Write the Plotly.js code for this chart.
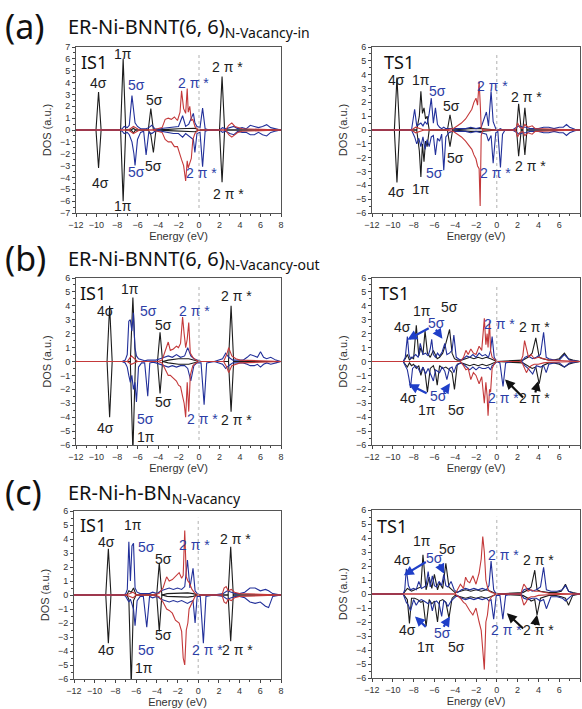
<!DOCTYPE html>
<html>
<head>
<meta charset="utf-8">
<script src="https://cdn.plot.ly/plotly-3.0.1.min.js"></script>
<style>html,body{margin:0;padding:0;background:#fff;}#chart{width:582px;height:709px;}</style>
</head>
<body>
<div id="chart"></div>
<script>
// ---------------- DATA ----------------
// (a) IS1
const aIS1_kX  = [-12,-10.05,-9.8,-9.55,-7.65,-7.4,-7.15,-6.6,-6.4,-6.2,-4.95,-4.7,-4.45,-4.2,-3,-2,-1,-0.4,0,2.0,2.25,2.5,8];
const aIS1_kUp = [0,0,3.2,0,0,6.0,0,0,0.15,0,0,1.8,0,0,0.05,0.1,0.1,0.15,0,0,4.5,0,0];
const aIS1_kDn = [0,0,-3.2,0,0,-6.0,0,0,-0.25,0,0,-0.4,-1.9,0,-0.05,-0.1,-0.1,-0.15,0,0,-4.4,0,0];
const aIS1_bX  = [-12,-7.8,-7.5,-7.3,-7.0,-6.8,-6.54,-6.35,-6.24,-6.0,-5.7,-5.4,-5.16,-4.9,-4.6,-4.3,-4.0,-3.5,-3.0,-2.5,-2.0,-1.6,-1.3,-1.0,-0.55,-0.4,-0.2,0.1,0.35,0.6,1.0,2.0,2.3,2.6,3.0,3.4,3.8,4.2,4.6,5.0,5.4,5.8,6.2,6.6,7.0,7.4,8];
const aIS1_bUp = [0,0,0.1,0.3,0.2,0.4,2.9,1.5,0.6,0.3,0.1,0.1,0.1,0.2,0.4,0.1,0.05,0.15,0.2,0.3,0.3,1.2,0.3,0.5,1.4,0.6,0.3,0.2,1.85,0.1,0,0,0.2,0.1,0.2,0.3,0.1,0.2,0.1,0.4,0.3,0.2,0.3,0.45,0.2,0.1,0];
const aIS1_bDn = [0,0,-0.1,-0.3,-0.2,-0.4,-1.0,-2.0,-3.0,-0.8,-0.2,-0.1,-2.1,-0.2,-0.3,-0.1,-0.05,-0.15,-0.2,-0.3,-0.3,-0.6,-0.3,-0.5,-0.8,-1.9,-0.3,-0.2,-3.1,-0.1,0,0,-0.2,-0.1,-0.3,-0.4,-0.1,-0.2,-0.2,-0.4,-0.4,-0.2,-0.4,-0.5,-0.2,-0.1,0];
const aIS1_rX  = [-12,-7.0,-6.7,-6.4,-6.1,-5.8,-4.5,-3.6,-3.3,-3.0,-2.7,-2.4,-2.1,-1.85,-1.7,-1.5,-1.3,-1.15,-1.05,-0.9,-0.75,-0.6,-0.4,-0.2,0,2.6,2.9,3.2,3.5,3.8,4.2,8];
const aIS1_rUp = [0,0,0.1,0.3,0.15,0,0,0.2,0.9,1.0,0.9,1.1,0.8,1.5,3.3,1.8,1.4,3.5,1.5,2.0,0.8,0.9,0.3,0.1,0,0,0.4,0.6,0.3,0.2,0.1,0];
const aIS1_rDn = [0,0,-0.1,-0.3,-0.15,0,0,-0.2,-0.8,-1.0,-1.0,-1.4,-1.4,-2.2,-2.5,-3.0,-4.3,-2.6,-3.2,-2.8,-2.4,-0.8,-0.3,-0.1,0,0,-0.4,-0.6,-0.4,-0.2,-0.1,0];

// (a) TS1
const aTS1_kX  = [-12,-9.85,-9.6,-9.35,-7.7,-7.45,-7.3,-7.15,-7.0,-6.85,-6.7,-6.5,-4.75,-4.5,-4.25,-3.5,-2.5,-1.5,-1,0,1.9,2.1,2.35,2.5,2.7,2.9,8];
const aTS1_kUp = [0,0,3.8,0,0,1.0,2.8,1.2,1.6,0.8,1.0,0,0,1.1,0,0.05,0.1,0.1,0.05,0,0,1.9,0,0,1.6,0,0];
const aTS1_kDn = [0,0,-3.8,0,0,-1.5,-3.4,-1.0,-2.3,-0.8,-1.2,0,0,-1.2,0,-0.05,-0.1,-0.1,-0.05,0,0,-1.9,0,0,-1.8,0,0];
const aTS1_bX  = [-12,-8.2,-7.9,-7.7,-7.5,-7.3,-7.1,-6.9,-6.7,-6.5,-6.3,-6.1,-5.9,-5.7,-5.5,-5.3,-5.1,-4.9,-4.6,-4.3,-4.0,-3.5,-3.0,-2.5,-2.0,-1.5,-1.0,-0.8,-0.55,-0.35,-0.1,0.1,0.35,0.55,0.8,1.5,1.9,2.2,2.5,2.8,3.2,4,4.5,5,5.5,6,6.4,6.7,7.0,7.5,8];
const aTS1_bUp = [0,0,1.5,0.3,0.4,0.5,0.3,0.6,0.4,1.2,2.3,0.5,1.6,0.4,0.2,0.1,0.2,0.1,0.1,0.1,0.1,0.1,0.1,0.2,0.1,0.2,1.3,0.3,2.8,0.6,0.1,0,0.1,0,0,0,0.2,0.3,0.2,0.2,0.1,0.1,0.2,0.2,0.1,0.2,0.2,0.4,0.2,0.05,0];
const aTS1_bDn = [0,0,-0.5,-1.0,-0.6,-1.2,-0.5,-1.4,-0.7,-1.2,-0.5,-0.4,-1.8,-0.6,-0.8,-0.3,-2.9,-0.5,-0.2,-0.1,-0.1,-0.1,-0.1,-0.2,-0.1,-0.2,-0.3,-0.8,-0.4,-2.4,-0.2,-0.1,-2.7,-0.3,0,0,-0.2,-0.3,-0.2,-0.2,-0.1,-0.1,-0.2,-0.2,-0.1,-0.2,-0.2,-0.4,-0.2,-0.05,0];
const aTS1_rX  = [-12,-8.2,-7.8,-7.4,-7.0,-6.0,-5.0,-4.2,-3.8,-3.4,-3.0,-2.7,-2.4,-2.2,-2.0,-1.85,-1.7,-1.6,-1.5,-1.35,-1.2,-1.0,1.8,2.0,2.2,2.5,2.7,3.0,3.4,3.7,8];
const aTS1_rUp = [0,0,0.2,0.1,0,0,0,0.1,0.3,0.5,0.8,1.2,1.5,2.0,2.3,1.8,3.5,2.0,0.2,0,0,0,0,0.5,0.2,0.1,0.4,0.2,0.3,0.1,0];
const aTS1_rDn = [0,0,-0.2,-0.1,0,0,0,-0.1,-0.3,-0.5,-0.8,-1.1,-1.4,-1.8,-2.1,-2.6,-2.8,-5.5,-0.4,0,0,0,0,-0.5,-0.2,-0.1,-0.4,-0.2,-0.3,-0.1,0];

// (b) IS1
const bIS1_kX  = [-12,-8.97,-8.72,-8.47,-6.7,-6.45,-6.2,-4.05,-3.8,-3.55,-3.0,-2.0,-1.0,-0.5,0,2.88,3.13,3.38,8];
const bIS1_kUp = [0,0,4.0,0,0,4.6,0,0,2.1,0,0.1,0.2,0.2,0.1,0,0,4.0,0,0];
const bIS1_kDn = [0,0,-4.0,0,0,-6.5,0,0,-2.3,0,-0.1,-0.2,-0.2,-0.1,0,0,-3.6,0,0];
const bIS1_bX  = [-12,-7.5,-7.2,-7.0,-6.85,-6.7,-6.55,-6.4,-6.25,-6.1,-5.9,-5.6,-5.3,-5.0,-4.8,-4.5,-4.2,-3.8,-3.4,-3.0,-2.6,-2.2,-1.8,-1.4,-1.1,-0.8,-0.5,-0.2,0.2,0.5,0.75,1.5,2.3,2.6,2.9,3.3,3.8,4.3,4.7,5.0,5.4,5.7,6.0,6.3,6.6,7.0,7.5,8];
const bIS1_bUp = [0,0,0.1,0.5,2.9,3.0,2.2,3.5,1.0,0.4,0.2,0.1,0.05,0.1,0.1,0.05,0.1,0.2,0.3,0.4,0.3,0.5,0.3,0.4,1.0,0.4,0.2,0.1,0,0,0,0,0.2,0.6,0.3,0.1,0.1,0.1,0.3,0.5,0.4,0.3,0.7,0.3,0.2,0.3,0.1,0];
const bIS1_bDn = [0,0,-0.1,-0.4,-1.0,-1.5,-1.0,-2.0,-1.5,-2.9,-0.4,-0.1,-0.1,-2.5,-0.1,-0.05,-0.1,-0.2,-0.3,-0.4,-0.3,-0.4,-0.3,-0.3,-0.5,-1.4,-0.3,-0.1,-0.1,-3.1,-0.1,0,-0.2,-0.5,-0.3,-0.1,-0.1,-0.1,-0.2,-0.3,-0.3,-0.2,-0.4,-0.2,-0.1,-0.2,-0.1,0];
const bIS1_rX  = [-12,-7.0,-6.6,-6.3,-6.0,-5.0,-4.0,-3.6,-3.3,-3.0,-2.8,-2.5,-2.2,-2.0,-1.8,-1.6,-1.45,-1.3,-1.15,-1.0,-0.85,-0.6,-0.3,0,2.4,2.7,2.9,3.2,3.6,4.0,8];
const bIS1_rUp = [0,0,0.4,0.2,0,0,0,0.1,0.7,1.4,0.8,0.9,1.1,1.0,1.3,3.2,2.0,1.0,1.6,2.8,0.6,0.3,0.1,0,0,0.5,1.0,0.4,0.2,0.1,0];
const bIS1_rDn = [0,0,-0.2,-0.1,0,0,0,-0.1,-0.5,-1.0,-1.0,-1.2,-1.4,-1.7,-1.8,-2.5,-3.0,-4.0,-1.5,-3.6,-1.0,-0.3,-0.1,0,0,-0.4,-0.8,-0.3,-0.2,-0.1,0];

// (b) TS1
const bTS1_kX  = [-12,-9,-8.8,-8.6,-8.4,-8.2,-8.0,-7.74,-7.5,-7.3,-7.1,-6.9,-6.67,-6.4,-6.1,-5.9,-5.73,-5.5,-5.2,-4.9,-4.54,-4.3,-4.07,-3.8,-3.4,-3.0,-2.6,-2.2,-1.8,-1.4,-1.0,-0.6,-0.3,0,2.5,3.0,3.4,3.75,4.08,4.4,5.0,5.5,6.0,6.5,6.9,7.3,8];
const bTS1_kUp = [0,0,0.2,0.5,0.1,0.3,0.2,2.6,0.4,1.0,0.5,2.2,0.6,0.3,0.8,0.4,0.2,0.3,0.6,1.3,2.3,0.6,0.2,0.1,0.1,0.2,0.3,0.2,0.3,0.2,0.3,0.2,0.1,0,0.1,0.3,0.6,1.7,0.3,0.2,0.1,0.1,0.2,0.6,0.2,0.1,0];
const bTS1_kDn = [0,0,-0.2,-0.4,-0.1,-0.3,-0.2,-0.5,-0.3,-1.0,-0.4,-0.8,-2.2,-0.5,-0.3,-0.8,-1.7,-0.3,-0.5,-0.4,-0.6,-0.8,-2.0,-0.2,-0.1,-0.2,-0.3,-0.2,-0.3,-0.2,-0.3,-0.2,-0.1,0,-0.1,-0.3,-0.5,-0.4,-1.6,-0.3,-0.1,-0.1,-0.2,-0.4,-0.2,-0.1,0];
const bTS1_bX  = [-12,-9.0,-8.8,-8.6,-8.45,-8.3,-8.1,-7.8,-7.55,-7.36,-7.1,-6.85,-6.6,-6.4,-6.26,-6.1,-5.9,-5.7,-5.5,-5.25,-5.0,-4.8,-4.55,-4.3,-4.13,-3.9,-3.5,-3.2,-2.9,-2.6,-2.3,-2.0,-1.7,-1.4,-1.1,-0.8,-0.6,-0.45,-0.25,0,0.3,0.6,0.85,1.5,2.4,2.7,3.0,3.45,3.8,4.2,4.5,4.75,5.0,5.5,6.0,6.5,7.0,7.5,8];
const bTS1_bUp = [0,0,0.3,1.8,0.5,0.2,0.3,0.5,0.3,1.3,0.5,0.6,0.4,0.9,1.6,0.5,0.3,0.6,0.4,0.7,1.3,0.5,0.6,0.8,1.9,0.3,0.1,0.2,0.4,0.3,0.5,0.3,0.6,0.4,0.5,0.3,0.8,1.8,0.3,0,0,0,0,0,0,0.3,0.4,0.2,0.3,0.5,2.1,0.3,0.2,0.1,0.1,0.5,0.1,0.05,0];
const bTS1_bDn = [0,0,-0.3,-0.6,-1.2,-1.9,-0.5,-0.3,-0.5,-0.8,-0.4,-0.9,-0.5,-0.8,-1.1,-1.4,-0.6,-0.7,-0.8,-0.4,-0.7,-1.3,-0.5,-0.4,-0.8,-0.3,-0.1,-0.2,-0.4,-0.6,-0.4,-0.6,-0.4,-0.5,-0.5,-0.4,-0.6,-0.3,-0.2,0,-0.1,-1.8,-0.1,0,0,-0.3,-0.5,-0.9,-0.3,-0.4,-0.3,-0.8,-0.2,-0.1,-0.1,-0.4,-0.1,-0.05,0];
const bTS1_rX  = [-12,-3.5,-3.2,-2.97,-2.75,-2.5,-2.25,-2.0,-1.7,-1.45,-1.2,-1.05,-0.93,-0.84,-0.7,-0.6,-0.45,-0.2,0,2.3,2.5,2.67,2.85,3.05,3.3,3.6,4.0,4.5,5.0,8];
const bTS1_rUp = [0,0,0.3,0.8,0.5,0.9,0.6,0.5,1.1,0.8,3.1,1.2,2.0,1.0,2.9,0.8,0.3,0.1,0,0,0.4,1.5,0.8,0.3,0.5,0.2,0.3,0.2,0.1,0];
const bTS1_rDn = [0,0,-0.3,-0.6,-0.5,-1.3,-0.8,-1.0,-1.6,-1.1,-3.0,-1.5,-2.5,-3.9,-2.0,-2.2,-0.5,-0.1,0,0,-0.2,-0.5,-0.8,-0.5,-0.3,-0.2,-0.2,-0.1,-0.05,0];

// (c) IS1
const cIS1_kX  = [-12,-8.93,-8.68,-8.43,-6.9,-6.7,-6.47,-6.25,-6.0,-4.01,-3.76,-3.51,-3.0,-2.0,-1.0,-0.5,0,2.89,3.14,3.39,8];
const cIS1_kUp = [0,0,3.3,0,0,0.3,0.2,0.5,0,0,2.3,0,0.1,0.15,0.15,0.1,0,0,3.45,0,0];
const cIS1_kDn = [0,0,-3.45,0,0,-0.3,-6.5,-0.4,0,0,-2.6,0,-0.1,-0.15,-0.15,-0.1,0,0,-3.3,0,0];
const cIS1_bX  = [-12,-7.2,-7.0,-6.85,-6.7,-6.55,-6.4,-6.25,-6.1,-5.9,-5.6,-5.3,-4.97,-4.7,-4.4,-4.0,-3.6,-3.2,-2.8,-2.4,-2.0,-1.6,-1.3,-1.04,-0.8,-0.5,-0.3,-0.1,0.2,0.5,0.75,1.5,2.4,2.8,3.2,3.6,4.0,4.5,5.0,5.5,6.0,6.5,6.8,7.2,8];
const cIS1_bUp = [0,0,0.1,0.4,3.8,1.0,3.5,3.7,0.5,0.2,0.1,0.1,0.1,0.1,0.2,0.1,0.3,0.4,0.5,0.4,0.5,0.4,0.6,2.5,0.5,1.9,0.3,0.1,0,0,0,0,0.1,0.3,0.2,0.1,0.1,0.2,0.5,0.5,0.3,0.4,0.3,0.1,0];
const cIS1_bDn = [0,0,-0.1,-0.3,-0.5,-0.3,-0.6,-1.0,-2.2,-0.4,-0.1,-0.1,-2.3,-0.1,-0.2,-0.1,-0.3,-0.4,-0.5,-0.4,-0.5,-0.4,-0.5,-0.6,-0.5,-0.4,-2.0,-0.1,-0.1,-3.45,-0.1,0,-0.1,-0.3,-0.2,-0.1,-0.1,-0.2,-0.5,-0.6,-0.5,-0.8,-0.9,-0.1,0];
const cIS1_rX  = [-12,-7.0,-6.6,-6.3,-6.0,-4.5,-3.8,-3.4,-3.05,-2.8,-2.5,-2.2,-1.84,-1.6,-1.45,-1.3,-1.15,-1.0,-0.88,-0.6,-0.3,0,2.3,2.5,2.7,2.9,3.2,3.5,4.0,8];
const cIS1_rUp = [0,0,0.1,0.2,0,0,0.1,0.5,1.3,1.0,1.1,1.3,1.6,1.2,1.4,4.6,1.3,1.0,0.9,0.4,0.1,0,0,0.5,0.6,0.3,0.4,0.2,0.1,0];
const cIS1_rDn = [0,0,-0.1,-0.2,0,0,-0.1,-0.5,-1.0,-1.1,-1.3,-1.8,-2.0,-2.6,-4.5,-5.0,-2.5,-2.0,-1.0,-0.6,-0.1,0,0,-0.5,-0.6,-0.3,-0.4,-0.2,-0.1,0];

// (c) TS1
const cTS1_kX  = [-12,-9,-8.8,-8.6,-8.4,-8.2,-7.9,-7.6,-7.3,-7.1,-6.8,-6.5,-6.25,-6.0,-5.7,-5.5,-5.2,-4.9,-4.6,-4.3,-4.0,-3.5,-3.0,-2.5,-2.0,-1.5,-1.0,-0.6,-0.3,0,2.5,3.0,3.3,3.65,3.87,4.2,5.0,5.6,6.2,6.6,6.9,7.3,8];
const cTS1_kUp = [0,0,0.2,0.4,0.3,0.2,0.3,0.4,0.5,2.8,0.3,1.2,0.4,1.4,0.3,0.8,0.4,2.2,0.5,0.3,0.1,0.2,0.3,0.2,0.3,0.2,0.3,0.2,0.1,0,0.1,0.3,0.5,1.7,0.3,0.2,0.1,0.1,0.2,0.7,0.2,0.1,0];
const cTS1_kDn = [0,0,-0.2,-0.4,-2.1,-0.3,-0.3,-0.4,-0.6,-0.5,-2.3,-0.4,-0.7,-0.5,-2.0,-0.5,-0.4,-0.6,-1.7,-0.3,-0.1,-0.2,-0.3,-0.2,-0.3,-0.2,-0.3,-0.2,-0.1,0,-0.1,-0.3,-0.5,-0.4,-1.5,-0.3,-0.1,-0.1,-0.2,-0.3,-0.8,-0.1,0];
const cTS1_bX  = [-12,-9.0,-8.85,-8.7,-8.5,-8.3,-8.0,-7.75,-7.5,-7.25,-7.0,-6.8,-6.6,-6.4,-6.2,-6.0,-5.8,-5.55,-5.3,-5.1,-4.9,-4.7,-4.4,-4.1,-3.8,-3.4,-3.0,-2.6,-2.2,-1.8,-1.4,-1.0,-0.75,-0.55,-0.3,-0.05,0.3,0.58,0.85,1.5,2.3,2.6,3.0,3.4,3.8,4.2,4.5,4.77,5.2,5.8,6.3,6.6,6.9,7.3,8];
const cTS1_bUp = [0,0,0.3,1.8,0.6,0.3,0.4,0.3,0.9,0.4,0.5,0.6,1.6,0.5,1.3,0.6,0.5,0.9,0.6,1.4,0.6,0.5,0.9,0.3,0.1,0.3,0.4,0.3,0.4,0.3,0.4,0.3,0.6,2.35,0.3,0,0,0,0,0,0,0.3,0.4,0.2,0.3,0.5,1.9,0.3,0.2,0.2,0.3,0.6,0.2,0.05,0];
const cTS1_bDn = [0,0,-0.3,-0.6,-0.8,-1.2,-0.4,-0.8,-0.5,-0.4,-0.5,-0.6,-0.7,-0.5,-1.2,-0.6,-0.5,-0.7,-1.6,-0.5,-0.6,-0.9,-0.5,-0.3,-0.1,-0.3,-0.4,-0.3,-0.4,-0.3,-0.4,-0.3,-0.5,-0.4,-1.8,-0.1,-0.1,-1.8,-0.1,0,0,-0.3,-0.4,-0.3,-0.3,-0.5,-0.4,-1.05,-0.2,-0.2,-0.3,-0.5,-0.3,-0.05,0];
const cTS1_rX  = [-12,-4.0,-3.5,-3.2,-3.0,-2.8,-2.6,-2.3,-2.0,-1.7,-1.5,-1.35,-1.2,-1.05,-0.9,-0.75,-0.5,-0.2,0,2.3,2.45,2.6,2.8,3.0,3.3,3.6,4.0,4.5,5,8];
const cTS1_rUp = [0,0,0.7,0.4,1.2,0.9,0.8,1.3,0.7,1.5,2.5,4.1,3.0,1.0,0.5,0.2,0.1,0.05,0,0,0.3,0.7,0.5,0.2,0.3,0.2,0.2,0.1,0.05,0];
const cTS1_rDn = [0,0,-0.3,-0.6,-0.7,-1.0,-1.2,-1.5,-1.0,-2.0,-2.6,-4.0,-5.4,-2.0,-1.5,-0.5,-0.2,-0.05,0,0,-0.4,-0.8,-0.6,-0.3,-0.2,-0.2,-0.1,-0.1,-0.05,0];

// axis tick values
const xTickVals = [-12,-10,-8,-6,-4,-2,0,2,4,6,8];
const yRangeA = [-7, 7];
const yRangeBC = [-6, 6];

// ---------------- STYLE ----------------
const BLACK = '#1c1c1c', BLUE = '#22309a', RED = '#c4393a';
const LBL_BLUE = '#2d3ea6', LBL_BLACK = '#1c1c1c';
const W = 582, H = 709;
const px = v => v / W, py = v => 1 - v / H;

const panels = [
  {k:[aIS1_kX,aIS1_kUp,aIS1_kDn], b:[aIS1_bX,aIS1_bUp,aIS1_bDn], r:[aIS1_rX,aIS1_rUp,aIS1_rDn], yr:yRangeA, xd:[76,281], yd:[47,213]},
  {k:[aTS1_kX,aTS1_kUp,aTS1_kDn], b:[aTS1_bX,aTS1_bUp,aTS1_bDn], r:[aTS1_rX,aTS1_rUp,aTS1_rDn], yr:yRangeBC, xd:[372,580], yd:[47,213]},
  {k:[bIS1_kX,bIS1_kUp,bIS1_kDn], b:[bIS1_bX,bIS1_bUp,bIS1_bDn], r:[bIS1_rX,bIS1_rUp,bIS1_rDn], yr:yRangeBC, xd:[76,281], yd:[278,445]},
  {k:[bTS1_kX,bTS1_kUp,bTS1_kDn], b:[bTS1_bX,bTS1_bUp,bTS1_bDn], r:[bTS1_rX,bTS1_rUp,bTS1_rDn], yr:yRangeBC, xd:[372,580], yd:[278,445]},
  {k:[cIS1_kX,cIS1_kUp,cIS1_kDn], b:[cIS1_bX,cIS1_bUp,cIS1_bDn], r:[cIS1_rX,cIS1_rUp,cIS1_rDn], yr:yRangeBC, xd:[74,281], yd:[511,679]},
  {k:[cTS1_kX,cTS1_kUp,cTS1_kDn], b:[cTS1_bX,cTS1_bUp,cTS1_bDn], r:[cTS1_rX,cTS1_rUp,cTS1_rDn], yr:yRangeBC, xd:[372,580], yd:[510,678]}
];

const traces = [];
const layout = {
  width: W, height: H, margin: {l:0, r:0, t:0, b:0},
  paper_bgcolor: '#fff', plot_bgcolor: '#fff', showlegend: false,
  font: {family: 'Liberation Sans, Arial, sans-serif', color: '#222'},
  annotations: [], shapes: []
};

panels.forEach((p, i) => {
  const n = i + 1;
  const xa = n === 1 ? 'x' : 'x' + n, ya = n === 1 ? 'y' : 'y' + n;
  const line = (X, Y, c) => ({x: X, y: Y, xaxis: xa, yaxis: ya, type: 'scatter', mode: 'lines',
    line: {color: c, width: 1.1}, hoverinfo: 'skip'});
  traces.push(line(p.k[0], p.k[1], BLACK), line(p.k[0], p.k[2], BLACK));
  traces.push(line(p.b[0], p.b[1], BLUE), line(p.b[0], p.b[2], BLUE));
  traces.push(line(p.r[0], p.r[1], RED), line(p.r[0], p.r[2], RED));
  const axBase = {showline: true, linecolor: '#555', linewidth: 1, mirror: true, showgrid: false,
    zeroline: false, ticks: 'outside', ticklen: 3, tickwidth: 1, tickcolor: '#444',
    tickfont: {size: 9, color: '#333', family: 'Liberation Sans, Arial, sans-serif'}};
  layout['xaxis' + (n === 1 ? '' : n)] = Object.assign({}, axBase, {
    domain: [px(p.xd[0]), px(p.xd[1])], anchor: ya, range: [-12, 8],
    tickvals: xTickVals, minor: {ticks: 'outside', ticklen: 2, dtick: 1, tick0: -12, tickcolor: '#444'},
    title: {text: 'Energy (eV)', font: {size: 11, color: '#333'}, standoff: 3}
  });
  layout['yaxis' + (n === 1 ? '' : n)] = Object.assign({}, axBase, {
    domain: [py(p.yd[1]), py(p.yd[0])], anchor: xa, range: p.yr, dtick: 1, tick0: 0,
    minor: {ticks: 'outside', ticklen: 2, dtick: 0.5, tickcolor: '#444'},
    title: {text: 'DOS (a.u.)', font: {size: 11, color: '#333'}, standoff: 6}
  });
  layout.shapes.push({type: 'line', xref: xa, yref: ya, x0: 0, x1: 0,
    y0: p.yr[0] * 0.94, y1: p.yr[1] * 0.92, line: {color: '#b0b0b0', width: 1, dash: 'dot'}});
});

// ---------------- TEXT LABELS ----------------
const peakLabels = [
  // panel, text, x, y, blue?
  [1,'IS1',-11.6,6.8,0,'tl'],[1,'1π',-7.4,6.4,0],[1,'4σ',-9.76,3.95,0],[1,'5σ',-6.1,3.77,1],[1,'5σ',-4.34,2.57,0],
  [1,'2 π *',-0.55,4.0,1],[1,'2 π *',2.74,5.29,0],[1,'4σ',-9.6,-4.43,0],[1,'5σ',-6.1,-3.57,1],[1,'5σ',-4.43,-3.06,0],
  [1,'1π',-7.46,-6.43,0],[1,'2 π *',0.27,-3.66,1],[1,'2 π *',2.9,-5.37,0],
  [2,'TS1',-10.9,5.85,0,'tl'],[2,'4σ',-9.6,3.6,0],[2,'1π',-7.3,3.6,0],[2,'5σ',-5.7,2.85,1],[2,'5σ',-4.35,1.7,0],
  [2,'2 π *',-0.4,3.15,1],[2,'2 π *',2.9,2.4,0],[2,'5σ',-4.0,-2.05,0],[2,'5σ',-6.0,-3.1,1],[2,'4σ',-9.6,-4.5,0],
  [2,'1π',-7.3,-4.3,0],[2,'2 π *',-0.1,-3.1,1],[2,'2 π *',3.2,-2.6,0],
  [3,'IS1',-11.7,5.85,0,'tl'],[3,'4σ',-9.1,3.6,0],[3,'1π',-6.7,5.2,0],[3,'5σ',-4.9,3.6,1],[3,'5σ',-3.5,2.6,0],
  [3,'2 π *',-0.4,3.6,1],[3,'2 π *',3.7,4.7,0],[3,'5σ',-3.5,-2.9,0],[3,'5σ',-5.2,-4.1,1],[3,'4σ',-9.1,-4.8,0],
  [3,'1π',-5.2,-5.4,0],[3,'2 π *',0.3,-4.1,1],[3,'2 π *',3.7,-4.2,0],
  [4,'TS1',-11.4,5.85,0,'tl'],[4,'1π',-7.2,3.6,0],[4,'5σ',-4.5,3.9,0],[4,'4σ',-9.1,2.45,0],[4,'5σ',-5.8,2.8,1],
  [4,'2 π *',0.3,2.7,1],[4,'2 π *',3.6,2.5,0],[4,'4σ',-8.5,-2.6,0],[4,'5σ',-5.6,-2.45,1],[4,'1π',-6.7,-3.5,0],
  [4,'5σ',-3.9,-3.5,0],[4,'2 π *',0.6,-2.6,1],[4,'2 π *',3.6,-2.6,0],
  [5,'IS1',-11.5,5.9,0,'tl'],[5,'1π',-6.3,5.0,0],[5,'4σ',-8.9,3.8,0],[5,'5σ',-5.0,3.45,1],[5,'5σ',-3.4,2.6,0],
  [5,'2 π *',-0.4,3.6,1],[5,'2 π *',3.6,4.0,0],[5,'5σ',-3.4,-2.85,0],[5,'4σ',-8.9,-3.9,0],[5,'5σ',-5.0,-3.9,1],
  [5,'1π',-5.2,-5.2,0],[5,'2 π *',0.9,-3.9,1],[5,'2 π *',3.75,-3.9,0],
  [6,'TS1',-11.6,5.8,0,'tl'],[6,'1π',-7.2,3.8,0],[6,'5σ',-4.7,3.2,0],[6,'4σ',-9.1,2.4,0],[6,'5σ',-6.0,2.6,1],
  [6,'2 π *',0.6,2.8,1],[6,'2 π *',4.0,2.4,0],[6,'4σ',-8.6,-2.6,0],[6,'5σ',-5.2,-2.8,1],[6,'1π',-6.8,-3.8,0],
  [6,'5σ',-3.9,-3.8,0],[6,'2 π *',0.9,-2.6,1],[6,'2 π *',4.0,-2.6,0]
];
peakLabels.forEach(l => {
  const n = l[0];
  const xr = n === 1 ? 'x' : 'x' + n, yr = n === 1 ? 'y' : 'y' + n;
  const isPanel = l[5] === 'tl';
  layout.annotations.push({
    xref: xr, yref: yr, x: l[2], y: l[3], text: l[1], showarrow: false,
    xanchor: isPanel ? 'left' : 'center', yanchor: isPanel ? 'top' : 'middle',
    borderpad: 0,
    font: isPanel ? {family: 'Noto Sans, sans-serif', size: 18, color: '#111'}
                  : {family: 'Liberation Sans, Arial, sans-serif', size: 14, color: l[4] ? LBL_BLUE : LBL_BLACK}
  });
});

// arrows: panel, tail x, tail y, head x, head y, blue?
const arrows = [
  [4,-6.4,2.45,-8.6,1.57,1],[4,-5.95,2.4,-5.23,1.64,1],[4,-6.6,-2.34,-8.46,-1.64,1],[4,-5.2,-2.34,-4.5,-1.57,1],
  [4,2.67,-2.69,0.79,-1.29,0],[4,3.67,-2.34,3.99,-1.4,0],
  [6,-6.68,2.35,-8.94,1.34,1],[6,-5.6,2.23,-5.06,1.44,1],[6,-6.68,-2.45,-7.87,-1.6,1],[6,-5.2,-2.45,-4.5,-1.6,1],
  [6,2.68,-2.57,0.97,-1.37,0],[6,3.65,-2.33,3.87,-1.49,0]
];
arrows.forEach(a => {
  const xr = 'x' + a[0], yr = 'y' + a[0];
  layout.annotations.push({xref: xr, yref: yr, axref: xr, ayref: yr, x: a[3], y: a[4], ax: a[1], ay: a[2],
    text: '', showarrow: true, arrowhead: 2, arrowsize: 0.9, arrowwidth: 2.2,
    arrowcolor: a[5] ? '#1f3fc8' : '#111'});
});

// panel titles
const titles = [
  ['(a)', 'ER-Ni-BNNT(6, 6)<sub>N-Vacancy-in</sub>', 26, 27],
  ['(b)', 'ER-Ni-BNNT(6, 6)<sub>N-Vacancy-out</sub>', 258, 259],
  ['(c)', 'ER-Ni-h-BN<sub>N-Vacancy</sub>', 492, 493]
];
titles.forEach(t => {
  layout.annotations.push({xref: 'paper', yref: 'paper', x: px(3), y: py(t[2]), xanchor: 'left', yanchor: 'middle',
    text: t[0], showarrow: false, font: {family: 'Noto Sans, sans-serif', size: 34, color: '#111'}});
  layout.annotations.push({xref: 'paper', yref: 'paper', x: px(66), y: py(t[3]), xanchor: 'left', yanchor: 'middle',
    text: t[1], showarrow: false, font: {family: 'Noto Sans, sans-serif', size: 20, color: '#111'}});
});

Plotly.newPlot('chart', traces, layout, {displayModeBar: false, staticPlot: true});
</script>
</body>
</html>
